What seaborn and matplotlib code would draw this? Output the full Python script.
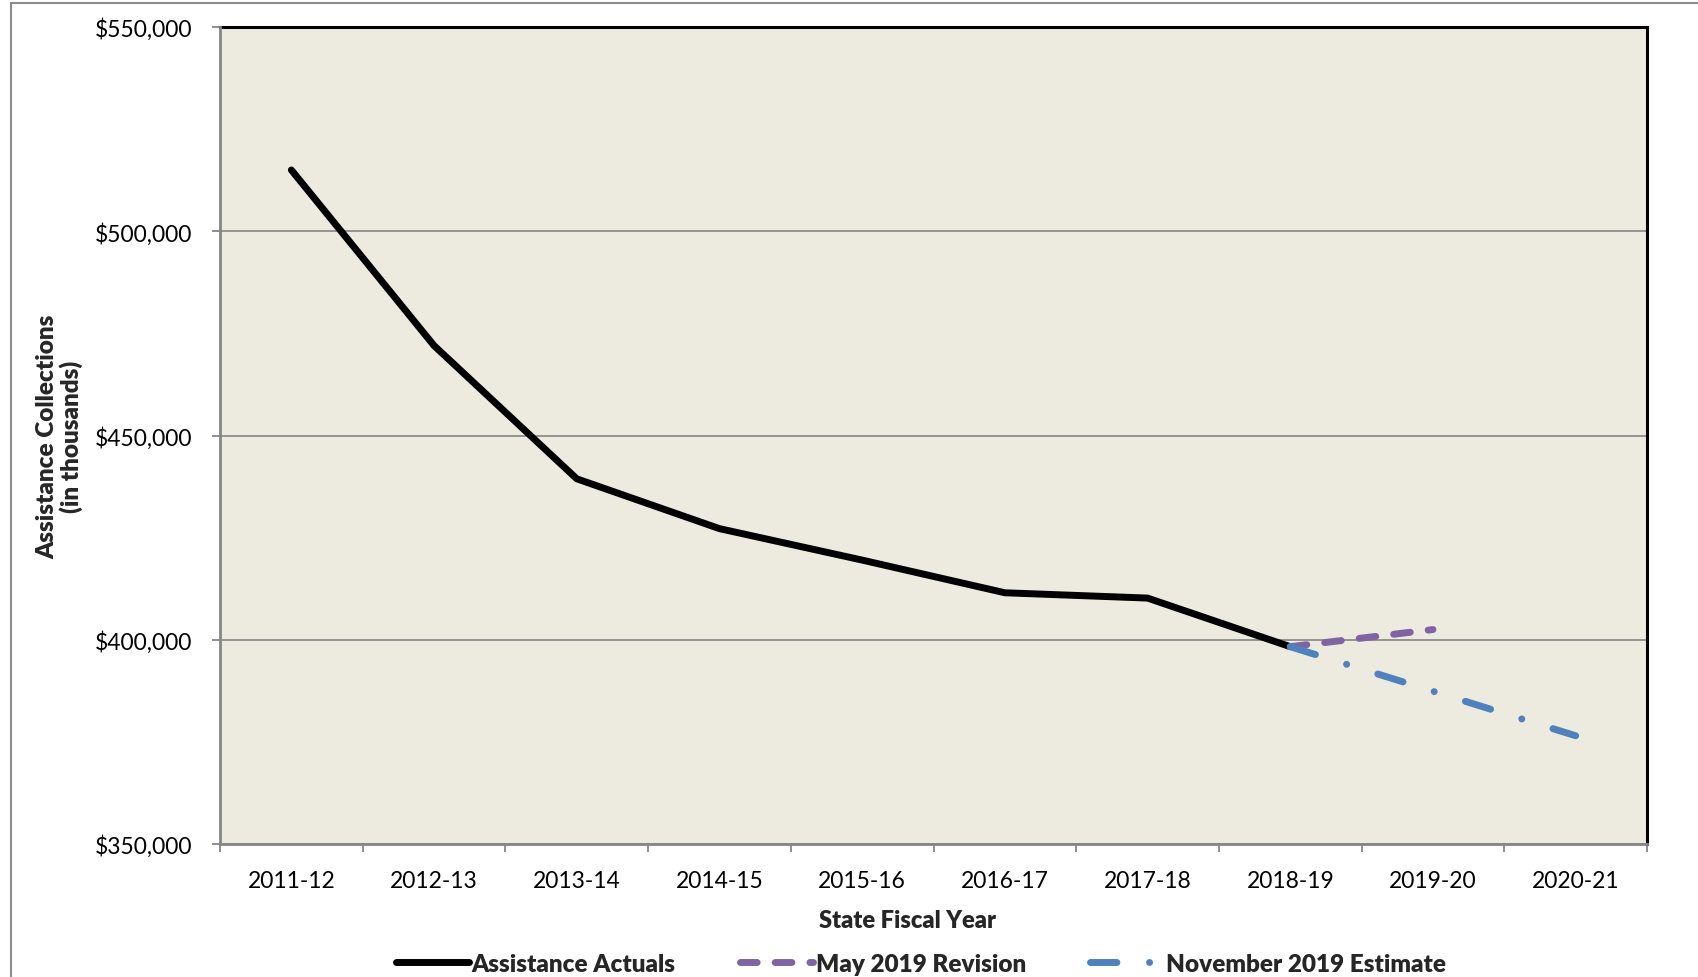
import matplotlib
matplotlib.use("Agg")
import matplotlib.pyplot as plt
import matplotlib.patches as mpatches
from matplotlib.ticker import FuncFormatter, FixedLocator
import seaborn as sns
import pandas as pd

# Fiscal years shown on the category axis
years = ["2011-12", "2012-13", "2013-14", "2014-15", "2015-16",
         "2016-17", "2017-18", "2018-19", "2019-20", "2020-21"]

# Assistance collections, in thousands of dollars
actual_years = ["2011-12", "2012-13", "2013-14", "2014-15", "2015-16",
                "2016-17", "2017-18", "2018-19"]
actual_values = [515000, 472000, 439400, 427200, 419500, 411500, 410200, 398300]

may_years = ["2018-19", "2019-20"]
may_values = [398300, 402500]

nov_years = ["2018-19", "2019-20", "2020-21"]
nov_values = [398300, 387400, 376500]

sns.set_theme(style="white")
plt.rcParams["font.family"] = ["Lato", "DejaVu Sans"]
HEAVY = 800

fig = plt.figure(figsize=(16.99, 9.78), dpi=100)
ax = fig.add_axes([220 / 1699, 1 - 845 / 978, 1427 / 1699, 817 / 978])
ax.set_facecolor("#EDEBE0")

# Category positions shared by all three series
pos = {y: i for i, y in enumerate(years)}
df_act = pd.DataFrame({"x": [pos[y] for y in actual_years], "v": actual_values})
df_may = pd.DataFrame({"x": [pos[y] for y in may_years], "v": may_values})
df_nov = pd.DataFrame({"x": [pos[y] for y in nov_years], "v": nov_values})

lw = 5.0
sns.lineplot(data=df_act, x="x", y="v", ax=ax, color="black", lw=lw,
             label="Assistance Actuals", solid_capstyle="round",
             solid_joinstyle="round", zorder=3)
sns.lineplot(data=df_may, x="x", y="v", ax=ax, color="#8064A2", lw=lw,
             label="May 2019 Revision", dashes=False, zorder=4)
sns.lineplot(data=df_nov, x="x", y="v", ax=ax, color="#4F81BD", lw=lw,
             label="November 2019 Estimate", dashes=False, zorder=5)

lines = ax.get_lines()
lines[1].set_linestyle((0, (2.4, 2.6)))
lines[1].set_dash_capstyle("round")
lines[2].set_linestyle((0, (3.8, 4.7, 0.01, 4.7)))
lines[2].set_dash_capstyle("round")

ax.set_xlim(-0.5, len(years) - 0.5)
ax.set_ylim(350000, 550000)

# Y axis: dollar ticks with gridlines
ax.yaxis.set_major_locator(FixedLocator([350000, 400000, 450000, 500000, 550000]))
ax.yaxis.set_major_formatter(FuncFormatter(lambda v, p: f"${v:,.0f}"))
ax.grid(axis="y", color="#8C8C8C", lw=1.3)
ax.set_axisbelow(True)

# X axis: labels at category centres, tick marks at category boundaries
ax.set_xticks(range(len(years)))
ax.set_xticklabels(years)
ax.set_xticks([i - 0.5 for i in range(len(years) + 1)], minor=True)
ax.tick_params(axis="x", which="major", length=0, pad=18.5, labelsize=16.5,
               labelcolor="black")
ax.tick_params(axis="x", which="minor", bottom=True, length=6, width=1.3,
               color="#868686")
ax.tick_params(axis="y", which="major", left=True, length=6, width=1.3,
               color="#868686", pad=14, labelsize=16.5, labelcolor="black")

for side in ["top", "right"]:
    ax.spines[side].set_color("black")
    ax.spines[side].set_linewidth(2.2)
for side in ["left", "bottom"]:
    ax.spines[side].set_color("#868686")
    ax.spines[side].set_linewidth(2.0)
    ax.spines[side].set_zorder(6)

ax.set_xlabel("State Fiscal Year", fontsize=17, fontweight=HEAVY)
ax.xaxis.set_label_coords((908 - 220) / 1427, (845 - 910) / 817)
ax.set_ylabel("Assistance Collections\n(in thousands)", fontsize=17.5,
              fontweight=HEAVY, linespacing=1.05)
ax.yaxis.set_label_coords((83 - 220) / 1427, 0.5)

ax.legend(loc="center", bbox_to_anchor=(921 / 1699, 1 - 965 / 978),
          bbox_transform=fig.transFigure, ncol=3, frameon=False,
          prop={"weight": HEAVY, "size": 17.5},
          handlelength=3.0, handletextpad=0.1, columnspacing=2.65)

# Chart border
fig.add_artist(mpatches.Rectangle((11 / 1699, -0.1), 1.5, 1.1 - 4 / 978,
                                  transform=fig.transFigure, fill=False,
                                  edgecolor="#8C8C8C", lw=1.5))

fig.savefig("out.png", dpi=100)
